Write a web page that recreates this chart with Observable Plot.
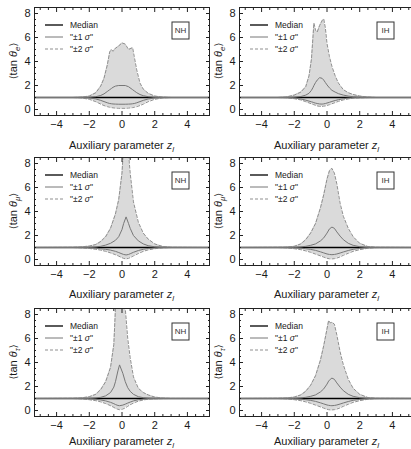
<!DOCTYPE html>
<html><head><meta charset="utf-8">
<script src="https://cdn.jsdelivr.net/npm/d3@7"></script>
<script src="https://cdn.jsdelivr.net/npm/@observablehq/plot@0.6"></script>
<style>
html,body{margin:0;padding:0;background:#fff;}
#wrap{position:relative;width:411px;height:449px;overflow:hidden;background:#fff;}
#wrap svg{position:absolute;}
</style></head><body><div id="wrap"></div>
<script>
// ---- data ----
const flavours = ["e", "μ", "τ"];
const orderings = ["NH", "IH"];
const xMajorTicks = [-4, -2, 0, 2, 4];
const xMinorTicks = [-5, -4.5, -3.5, -3, -2.5, -1.5, -1, -0.5, 0.5, 1, 1.5, 2.5, 3, 3.5, 4.5, 5];
const yMajorTicks = [0, 2, 4, 6, 8];
const yMinorTicks = [-0.5, 0.5, 1, 1.5, 2.5, 3, 3.5, 4.5, 5, 5.5, 6.5, 7, 7.5, 8.5];
const legendLabels = ["Median", "±1", "±2"];
const medianValue = 1;

const z_eNH   = [-5.4, -3, -2.5, -2, -1.6, -1.3, -1.1, -0.9, -0.75, -0.65, -0.55, -0.4, -0.2, 0, 0.2, 0.4, 0.55, 0.65, 0.75, 0.9, 1.1, 1.3, 1.6, 2, 2.5, 3, 5.4];
const hi2_eNH = [1, 1, 1.03, 1.12, 1.4, 1.95, 2.6, 3.7, 4.8, 5.0, 4.85, 5.1, 5.3, 5.55, 5.45, 5.0, 5.1, 5.15, 4.4, 3.3, 2.2, 1.7, 1.35, 1.12, 1.03, 1, 1];
const hi1_eNH = [1, 1, 1.01, 1.02, 1.07, 1.17, 1.3, 1.5, 1.65, 1.75, 1.85, 1.95, 2.0, 2.0, 2.0, 1.9, 1.75, 1.65, 1.55, 1.4, 1.25, 1.15, 1.07, 1.02, 1.01, 1, 1];
const lo1_eNH = [1, 1, 0.99, 0.96, 0.88, 0.76, 0.66, 0.56, 0.5, 0.48, 0.46, 0.45, 0.44, 0.44, 0.44, 0.45, 0.46, 0.48, 0.5, 0.56, 0.66, 0.76, 0.88, 0.96, 0.99, 1, 1];
const lo2_eNH = [1, 1, 0.97, 0.85, 0.65, 0.45, 0.33, 0.24, 0.19, 0.16, 0.14, 0.12, 0.1, 0.1, 0.1, 0.12, 0.14, 0.16, 0.19, 0.24, 0.33, 0.45, 0.65, 0.85, 0.97, 1, 1];

const z_eIH   = [-5.4, -3, -2.5, -2, -1.6, -1.3, -1.1, -0.95, -0.85, -0.8, -0.7, -0.6, -0.45, -0.3, -0.2, -0.1, 0, 0.15, 0.3, 0.5, 0.7, 1, 1.3, 1.6, 2, 2.5, 3, 5.4];
const hi2_eIH = [1, 1, 1.04, 1.2, 1.45, 1.9, 2.8, 4.2, 6.2, 7.2, 6.6, 6.45, 7.0, 7.4, 7.55, 6.8, 5.5, 4.4, 3.6, 2.8, 2.2, 1.65, 1.4, 1.25, 1.12, 1.04, 1, 1];
const hi1_eIH = [1, 1, 1.01, 1.03, 1.08, 1.2, 1.35, 1.6, 1.85, 2.0, 2.25, 2.45, 2.65, 2.6, 2.45, 2.25, 2.05, 1.8, 1.6, 1.45, 1.32, 1.2, 1.12, 1.06, 1.03, 1.01, 1, 1];
const lo1_eIH = [1, 1, 0.99, 0.95, 0.88, 0.78, 0.7, 0.64, 0.6, 0.57, 0.53, 0.5, 0.46, 0.45, 0.47, 0.5, 0.54, 0.6, 0.67, 0.75, 0.82, 0.9, 0.95, 0.98, 0.99, 1, 1, 1];
const lo2_eIH = [1, 1, 0.98, 0.9, 0.8, 0.65, 0.55, 0.47, 0.42, 0.4, 0.35, 0.3, 0.26, 0.26, 0.28, 0.3, 0.34, 0.4, 0.48, 0.58, 0.68, 0.8, 0.88, 0.94, 0.97, 0.99, 1, 1];

const z_muNH   = [-5.4, -3, -2.5, -2, -1.6, -1.3, -1, -0.7, -0.4, -0.2, 0, 0.1, 0.25, 0.4, 0.5, 0.7, 1, 1.3, 1.6, 2, 2.5, 3, 5.4];
const hi2_muNH = [1, 1.02, 1.05, 1.12, 1.25, 1.5, 1.9, 2.6, 3.8, 5.0, 7.2, 9.5, 11, 8.8, 7.2, 4.8, 3.1, 2.2, 1.7, 1.3, 1.08, 1.02, 1];
const hi1_muNH = [1, 1, 1.01, 1.02, 1.05, 1.1, 1.2, 1.35, 1.6, 1.9, 2.5, 3.0, 3.55, 3.0, 2.6, 2.0, 1.55, 1.3, 1.15, 1.06, 1.02, 1, 1];
const lo1_muNH = [1, 1, 0.99, 0.97, 0.94, 0.9, 0.85, 0.78, 0.68, 0.58, 0.47, 0.42, 0.38, 0.42, 0.48, 0.6, 0.75, 0.85, 0.92, 0.96, 0.99, 1, 1];
const lo2_muNH = [1, 1, 0.97, 0.92, 0.85, 0.78, 0.68, 0.55, 0.4, 0.28, 0.15, 0.09, 0.05, 0.1, 0.16, 0.3, 0.5, 0.68, 0.8, 0.9, 0.97, 1, 1];

const z_muIH   = [-5.4, -3, -2.5, -2, -1.6, -1.3, -1, -0.7, -0.4, -0.2, 0, 0.15, 0.3, 0.45, 0.6, 0.8, 1, 1.3, 1.6, 2, 2.5, 3, 5.4];
const hi2_muIH = [1, 1.02, 1.03, 1.1, 1.3, 1.65, 2.2, 3.0, 4.3, 5.4, 6.7, 7.4, 7.6, 7.2, 6.3, 4.7, 3.6, 2.6, 1.9, 1.35, 1.08, 1.02, 1];
const hi1_muIH = [1, 1, 1.01, 1.02, 1.05, 1.1, 1.18, 1.3, 1.55, 1.8, 2.2, 2.55, 2.7, 2.6, 2.3, 1.95, 1.65, 1.35, 1.18, 1.07, 1.02, 1, 1];
const lo1_muIH = [1, 1, 0.99, 0.97, 0.94, 0.9, 0.84, 0.76, 0.64, 0.55, 0.46, 0.42, 0.4, 0.42, 0.46, 0.54, 0.63, 0.75, 0.85, 0.93, 0.98, 1, 1];
const lo2_muIH = [1, 1, 0.97, 0.9, 0.82, 0.72, 0.6, 0.45, 0.3, 0.2, 0.1, 0.06, 0.05, 0.07, 0.12, 0.22, 0.35, 0.52, 0.68, 0.82, 0.94, 0.99, 1];

const z_tauNH   = [-5.4, -3, -2.5, -2, -1.6, -1.3, -1, -0.7, -0.5, -0.4, -0.25, -0.15, 0.05, 0.2, 0.35, 0.5, 0.7, 1, 1.3, 1.6, 2, 2.5, 3, 5.4];
const hi2_tauNH = [1, 1.02, 1.05, 1.15, 1.35, 1.75, 2.4, 3.6, 5.5, 8.5, 11, 12, 11, 8.5, 6.0, 4.4, 2.8, 1.85, 1.5, 1.3, 1.12, 1.04, 1.01, 1];
const hi1_tauNH = [1, 1, 1.01, 1.02, 1.05, 1.1, 1.22, 1.5, 1.95, 2.4, 3.3, 3.8, 3.1, 2.4, 1.9, 1.6, 1.35, 1.15, 1.07, 1.03, 1.01, 1, 1, 1];
const lo1_tauNH = [1, 1, 0.99, 0.97, 0.93, 0.88, 0.8, 0.68, 0.57, 0.5, 0.42, 0.4, 0.45, 0.53, 0.62, 0.7, 0.8, 0.9, 0.95, 0.98, 0.99, 1, 1, 1];
const lo2_tauNH = [1, 1, 0.97, 0.9, 0.82, 0.72, 0.58, 0.4, 0.26, 0.18, 0.1, 0.07, 0.12, 0.22, 0.35, 0.48, 0.62, 0.78, 0.88, 0.94, 0.97, 0.99, 1, 1];

const z_tauIH   = [-5.4, -3, -2.5, -2, -1.6, -1.3, -1, -0.7, -0.4, -0.2, 0, 0.1, 0.2, 0.3, 0.45, 0.6, 0.8, 1, 1.3, 1.6, 2, 2.5, 3, 5.4];
const hi2_tauIH = [1, 1.02, 1.04, 1.12, 1.3, 1.6, 2.1, 2.9, 4.2, 5.4, 6.8, 7.5, 7.3, 7.35, 7.2, 6.3, 4.9, 3.8, 2.6, 1.85, 1.35, 1.08, 1.02, 1];
const hi1_tauIH = [1, 1, 1.01, 1.02, 1.05, 1.1, 1.18, 1.3, 1.55, 1.8, 2.2, 2.45, 2.6, 2.7, 2.6, 2.3, 1.95, 1.65, 1.35, 1.18, 1.07, 1.02, 1, 1];
const lo1_tauIH = [1, 1, 0.99, 0.97, 0.94, 0.9, 0.84, 0.76, 0.64, 0.55, 0.46, 0.43, 0.41, 0.4, 0.42, 0.46, 0.54, 0.63, 0.75, 0.85, 0.93, 0.98, 1, 1];
const lo2_tauIH = [1, 1, 0.97, 0.9, 0.82, 0.72, 0.6, 0.45, 0.3, 0.2, 0.1, 0.07, 0.05, 0.05, 0.07, 0.12, 0.22, 0.35, 0.52, 0.68, 0.82, 0.94, 0.99, 1];

// ---- panels ----
const panels = [
  {row: 0, col: 0, fl: flavours[0], ord: orderings[0], z: z_eNH, hi2: hi2_eNH, hi1: hi1_eNH, lo1: lo1_eNH, lo2: lo2_eNH},
  {row: 0, col: 1, fl: flavours[0], ord: orderings[1], z: z_eIH, hi2: hi2_eIH, hi1: hi1_eIH, lo1: lo1_eIH, lo2: lo2_eIH},
  {row: 1, col: 0, fl: flavours[1], ord: orderings[0], z: z_muNH, hi2: hi2_muNH, hi1: hi1_muNH, lo1: lo1_muNH, lo2: lo2_muNH},
  {row: 1, col: 1, fl: flavours[1], ord: orderings[1], z: z_muIH, hi2: hi2_muIH, hi1: hi1_muIH, lo1: lo1_muIH, lo2: lo2_muIH},
  {row: 2, col: 0, fl: flavours[2], ord: orderings[0], z: z_tauNH, hi2: hi2_tauNH, hi1: hi1_tauNH, lo1: lo1_tauNH, lo2: lo2_tauNH},
  {row: 2, col: 1, fl: flavours[2], ord: orderings[1], z: z_tauIH, hi2: hi2_tauIH, hi1: hi1_tauIH, lo1: lo1_tauIH, lo2: lo2_tauIH}
];

const W = 210, H = 150, mL = 34, mR = 1, mT = 7, mB = 35;
const rowTop = [0, 150, 301];
const labelBaseline = [149, 148, 144];
const FONT = "'Liberation Sans', Arial, 'DejaVu Sans', sans-serif";
const C_FILL = "#dadada", C_S1 = "#777777", C_S2 = "#8f8f8f", C_FRAME = "#222";
const wrap = document.getElementById("wrap");

panels.forEach(p => {
  const rows = p.z.map((z, i) => ({z, hi2: p.hi2[i], hi1: p.hi1[i], lo1: p.lo1[i], lo2: p.lo2[i]}));
  const chart = Plot.plot({
    width: W, height: H,
    marginLeft: mL, marginRight: mR, marginTop: mT, marginBottom: mB,
    style: {fontFamily: FONT, fontSize: "11px", color: "#1a1a1a", background: "transparent", overflow: "visible"},
    x: {domain: [-5.35, 5.35]},
    y: {domain: [-0.5, 8.5]},
    marks: [
      Plot.areaY(rows, {x: "z", y1: "lo2", y2: "hi2", fill: C_FILL, clip: true}),
      Plot.ruleY([medianValue], {stroke: "#000", strokeWidth: 1.3}),
      Plot.lineY(rows, {x: "z", y: "hi2", stroke: C_S2, strokeWidth: 1, strokeDasharray: "3,2", clip: true}),
      Plot.lineY(rows, {x: "z", y: "lo2", stroke: C_S2, strokeWidth: 1, strokeDasharray: "3,2", clip: true}),
      Plot.lineY(rows, {x: "z", y: "hi1", stroke: C_S1, strokeWidth: 1, clip: true}),
      Plot.lineY(rows, {x: "z", y: "lo1", stroke: C_S1, strokeWidth: 1, clip: true}),
      Plot.frame({stroke: C_FRAME}),
      Plot.axisX(xMajorTicks, {anchor: "bottom", tickSize: -4, tickPadding: 9, label: null, stroke: C_FRAME}),
      Plot.axisX(xMinorTicks, {anchor: "bottom", tickSize: -2, fill: "none", label: null, stroke: C_FRAME}),
      Plot.axisX(xMajorTicks, {anchor: "top", tickSize: -4, fill: "none", label: null, stroke: C_FRAME}),
      Plot.axisX(xMinorTicks, {anchor: "top", tickSize: -2, fill: "none", label: null, stroke: C_FRAME}),
      Plot.axisY(yMajorTicks, {anchor: "left", tickSize: -4, tickPadding: 8, label: null, stroke: C_FRAME}),
      Plot.axisY(yMinorTicks, {anchor: "left", tickSize: -2, fill: "none", label: null, stroke: C_FRAME}),
      Plot.axisY(yMajorTicks, {anchor: "right", tickSize: -4, fill: "none", label: null, stroke: C_FRAME}),
      Plot.axisY(yMinorTicks, {anchor: "right", tickSize: -2, fill: "none", label: null, stroke: C_FRAME})
    ]
  });
  chart.style.left = (p.col * 205) + "px";
  chart.style.top = rowTop[p.row] + "px";
  wrap.appendChild(chart);

  const svg = d3.select(chart);
  // x label
  const xl = svg.append("text").attr("x", (mL + W - mR) / 2).attr("y", labelBaseline[p.row])
    .attr("text-anchor", "middle").attr("font-family", FONT).attr("font-size", 11).attr("fill", "#1a1a1a");
  xl.append("tspan").text("Auxiliary parameter ");
  xl.append("tspan").attr("font-style", "italic").text("z");
  xl.append("tspan").attr("font-style", "italic").attr("font-size", 8).attr("dy", 2.5).text("l");

  // y label
  const yl = svg.append("text").attr("transform", `translate(17,${(mT + H - mB) / 2}) rotate(-90)`)
    .attr("text-anchor", "middle").attr("font-family", FONT).attr("font-size", 11).attr("fill", "#1a1a1a");
  yl.append("tspan").attr("font-family", "'DejaVu Sans', sans-serif").attr("font-size", 10).text("⟨");
  yl.append("tspan").text("tan ");
  yl.append("tspan").attr("font-style", "italic").text("θ");
  yl.append("tspan").attr("font-style", "italic").attr("font-size", 8).attr("dy", 2.5).text(p.fl);
  yl.append("tspan").attr("font-family", "'DejaVu Sans', sans-serif").attr("font-size", 10).attr("dy", -2.5).text("⟩");

  // legend
  const g = svg.append("g").attr("transform", `translate(${mL},${mT})`);
  const styles = [
    {stroke: "#000", dash: null, w: 1.3},
    {stroke: C_S1, dash: null, w: 1},
    {stroke: C_S2, dash: "3,2", w: 1}
  ];
  legendLabels.forEach((lab, i) => {
    const y = 18 + 12 * i;
    g.append("line").attr("x1", 11).attr("x2", 29).attr("y1", y).attr("y2", y)
      .attr("stroke", styles[i].stroke).attr("stroke-width", styles[i].w)
      .attr("stroke-dasharray", styles[i].dash);
    const t = g.append("text").attr("x", 36).attr("y", y + 3).attr("font-family", FONT)
      .attr("text-anchor", "start").attr("font-size", 8.5).attr("fill", "#1a1a1a");
    if (i === 0) {
      t.text(lab);
    } else {
      t.append("tspan").text("\"" + lab + " ");
      t.append("tspan").attr("font-style", "italic").text("σ");
      t.append("tspan").text("\"");
    }
  });

  // ordering box
  g.append("rect").attr("x", 138).attr("y", 15).attr("width", 17).attr("height", 17)
    .attr("fill", "#fff").attr("stroke", "#333").attr("stroke-width", 1);
  g.append("text").attr("x", 146.5).attr("y", 23.5).attr("dy", "0.35em")
    .attr("text-anchor", "middle").attr("font-family", FONT).attr("font-size", 8)
    .attr("fill", "#333").text(p.ord);
});
</script>
</body></html>
